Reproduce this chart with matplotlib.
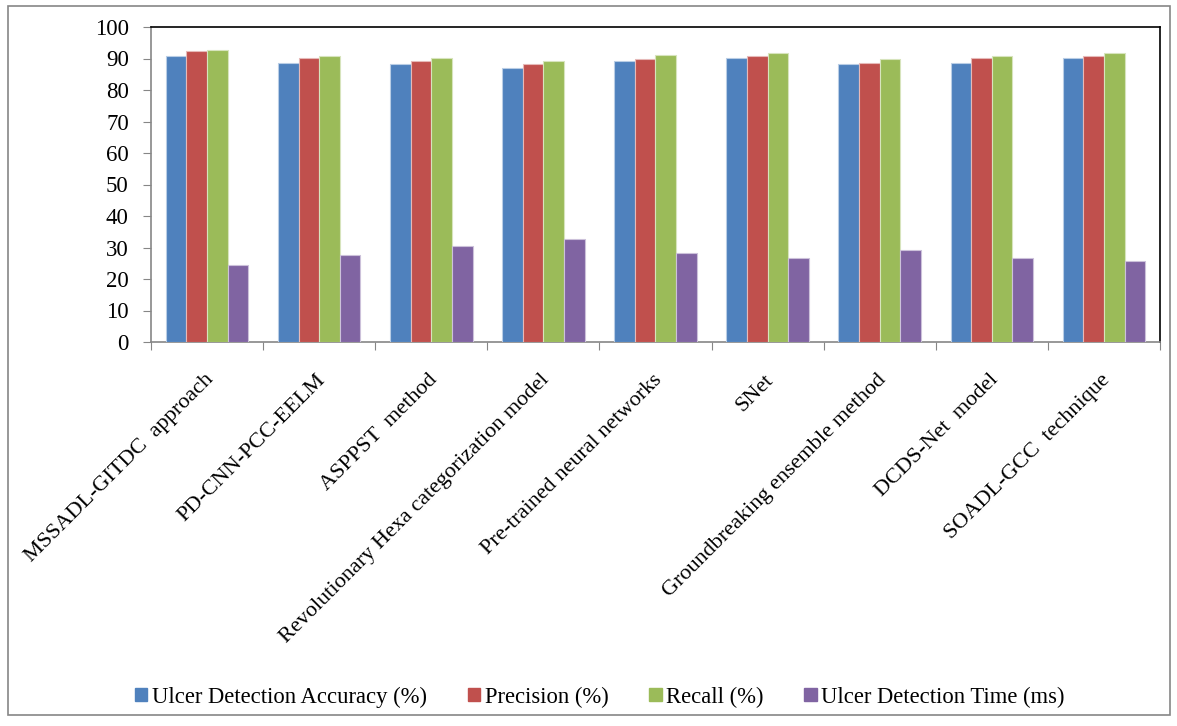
import matplotlib
matplotlib.use("Agg")
import matplotlib.pyplot as plt
import numpy as np
from matplotlib.patches import Rectangle

categories = ["MSSADL-GITDC  approach", "PD-CNN-PCC-EELM", "ASPPST  method",
              "Revolutionary Hexa categorization model", "Pre-trained neural networks",
              "SNet", "Groundbreaking ensemble method", "DCDS-Net  model",
              "SOADL-GCC  technique"]
series_names = ["Ulcer Detection Accuracy (%)", "Precision (%)", "Recall (%)",
                "Ulcer Detection Time (ms)"]
accuracy = [90.8, 88.6, 88.1, 87.0, 89.1, 90.2, 88.1, 88.6, 90.2]
precision = [92.3, 90.2, 89.1, 88.1, 89.7, 90.8, 88.6, 90.2, 90.8]
recall = [92.8, 90.7, 90.2, 89.1, 91.2, 91.7, 89.7, 90.7, 91.7]
det_time = [24.6, 27.7, 30.5, 32.6, 28.4, 26.7, 29.3, 26.7, 25.6]
yticks = list(range(0, 101, 10))

colors = ["#4F81BD", "#C0504D", "#9BBB59", "#8064A2"]
edges = ["#B9CDE5", "#E6B9B8", "#D7E4BD", "#CCC1DA"]

plt.rcParams['font.family'] = ['Liberation Serif', 'DejaVu Serif']

fig = plt.figure(figsize=(11.77, 7.26), dpi=100)
ax = fig.add_axes([151/1177, 1-342/726, (1160-151)/1177, (342-27)/726])

x = np.arange(len(categories))
w = 0.184
data = [accuracy, precision, recall, det_time]
for i, (vals, c, e) in enumerate(zip(data, colors, edges)):
    ax.bar(x + (i - 1.5) * w, vals, width=w, color=c, edgecolor=e, linewidth=0.8,
           label=series_names[i], zorder=3)

ax.set_xlim(-0.5, len(categories) - 0.5)
ax.set_ylim(0, 100)
ax.set_yticks(yticks)
ax.set_yticklabels([str(t) for t in yticks], fontsize=16.5)
ax.set_xticks(np.arange(-0.5, len(categories) + 0.5, 1))
ax.set_xticklabels([])
ax.tick_params(axis='x', length=6, color='#868686', direction='out')
ax.tick_params(axis='y', length=6, color='#868686', direction='out', pad=10)
for i, lab in enumerate(categories):
    ax.text(i - 0.03, -9, lab, rotation=45, ha='right', va='top', rotation_mode='anchor',
            fontsize=16, transform=ax.transData)
ax.spines['left'].set_color('#868686')
ax.spines['bottom'].set_color('#868686')
ax.spines['top'].set_color('black')
ax.spines['right'].set_color('black')
for s in ax.spines.values():
    s.set_linewidth(1.2)

handles = [Rectangle((0, 0), 1, 1, color=c) for c in colors]
fig.legend(handles, series_names, loc='center', bbox_to_anchor=(600/1177, 1-697/726),
           ncol=4, frameon=False, fontsize=16.3, handlelength=0.55, handleheight=0.55,
           handletextpad=0.2, columnspacing=1.8)

fig.patches.append(Rectangle((8/1177, 1-715/726), (1170-8)/1177, (715-6)/726,
                             transform=fig.transFigure, fill=False, edgecolor='#868686',
                             linewidth=1.2))
fig.savefig("out.png", dpi=100)
